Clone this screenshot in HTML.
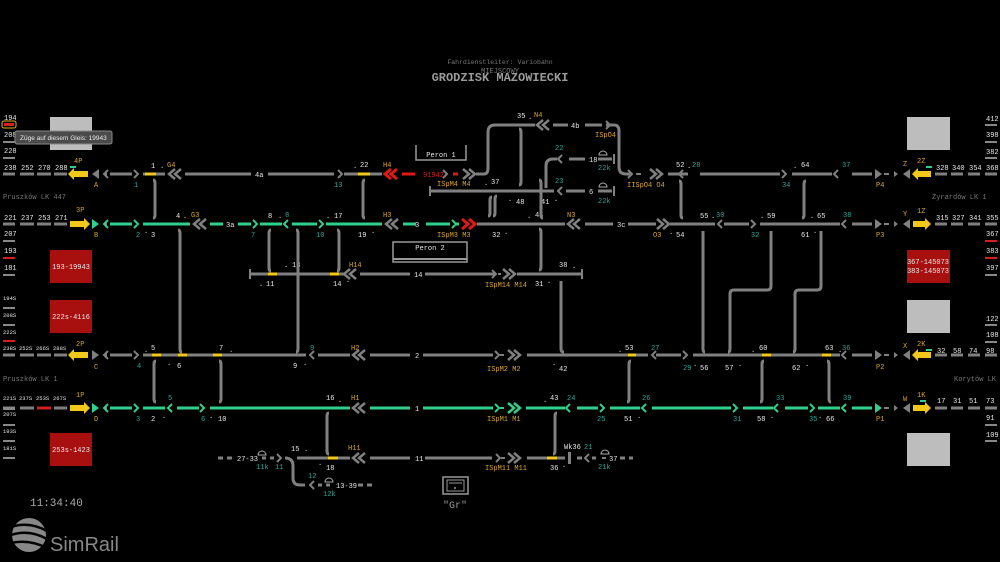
<!DOCTYPE html>
<html><head><meta charset="utf-8"><style>
html,body{margin:0;padding:0;background:#000;}
svg{display:block}
text{font-family:"Liberation Mono","DejaVu Sans Mono",monospace;font-size:7px;fill:#e8e8e8}
text.s{font-size:5.5px}
.o{fill:#d9a528}.t{fill:#2aa89a}.r{fill:#d42020}.g{fill:#777}
.tr{stroke:#808080;stroke-width:3;fill:none}
.gr{stroke:#2fd08c;stroke-width:3;fill:none}
.y{stroke:#f2c81a;stroke-width:3;fill:none}
.rd{stroke:#e01818;stroke-width:3;fill:none}
.ch{stroke:#808080;stroke-width:2;fill:none}
.chg{stroke:#2fd08c;stroke-width:2;fill:none}
.br{stroke:#808080;stroke-width:3;fill:none}
</style></head><body>
<svg width="1000" height="562" viewBox="0 0 1000 562" xmlns="http://www.w3.org/2000/svg">
<rect width="1000" height="562" fill="#000"/>
<text x="500" y="64" text-anchor="middle" style="font-size:6.5px" class="g">Fahrdienstleiter: Variobahn</text>
<text x="500" y="73" text-anchor="middle" style="font-size:7px" class="g">MIEJSCOWY</text>
<text x="500" y="81" text-anchor="middle" style="font-size:12px;font-weight:bold;fill:#9a9a9a">GRODZISK MAZOWIECKI</text>

<g>
<text x="4" y="120">194</text><rect x="2" y="121" width="14" height="7" rx="2" fill="none" stroke="#e0b020"/><rect x="4" y="123" width="10" height="3" fill="#d42020"/>
<text x="4" y="137">208</text><rect x="3" y="141" width="12" height="2" fill="#888"/>
<text x="4" y="153">228</text><rect x="3" y="157" width="12" height="2" fill="#888"/>
<text x="4" y="170">238</text><text x="21" y="170">252</text><text x="38" y="170">270</text><text x="55" y="170">288</text>
<text x="4" y="220">221</text><text x="21" y="220">237</text><text x="38" y="220">253</text><text x="55" y="220">271</text>
<text x="4" y="236">207</text><rect x="3" y="240" width="12" height="2" fill="#888"/>
<text x="4" y="253">193</text><rect x="3" y="257" width="12" height="2" fill="#d42020"/>
<text x="4" y="270">181</text><rect x="3" y="274" width="12" height="2" fill="#888"/>
<text class="s" x="3" y="300">194S</text><rect x="3" y="307" width="12" height="2" fill="#888"/>
<text class="s" x="3" y="317">208S</text><rect x="3" y="324" width="12" height="2" fill="#888"/>
<text class="s" x="3" y="334">222S</text><rect x="3" y="340" width="12" height="2" fill="#d42020"/>
<text class="s" x="3" y="350">238S</text><text class="s" x="19" y="350">252S</text><text class="s" x="36" y="350">266S</text><text class="s" x="53" y="350">288S</text>
<text class="s" x="3" y="400">221S</text><text class="s" x="19" y="400">237S</text><text class="s" x="36" y="400">253S</text><text class="s" x="53" y="400">267S</text>
<text class="s" x="3" y="416">207S</text><rect x="3" y="424" width="12" height="2" fill="#888"/>
<text class="s" x="3" y="433">193S</text><rect x="3" y="440" width="12" height="2" fill="#888"/>
<text class="s" x="3" y="450">181S</text><rect x="3" y="457" width="12" height="2" fill="#888"/>
<text x="3" y="199" class="g">Pruszków LK 447</text>
<text x="3" y="381" class="g">Pruszków LK 1</text>
</g>
<g stroke="#808080" stroke-width="3">
<path d="M3 174h12M20 174h14M37 174h14M54 174h13"/>
<path d="M3 224h12M20 224h14M37 224h14M54 224h13"/>
<path d="M3 355h12M20 355h14M37 355h14M54 355h13"/>
<path d="M3 408h12M20 408h14M54 408h13"/>
</g>
<path d="M37 408h14" stroke="#d42020" stroke-width="3"/>
<rect x="3" y="407" width="12" height="3" fill="#888"/>
<rect x="50" y="117" width="42" height="33" fill="#bdbdbd"/>
<rect x="15" y="131" width="97" height="13" rx="2" fill="#4a4a4a" stroke="#8a8a8a"/>
<text x="20" y="140" style="font-family:'Liberation Sans',sans-serif;font-size:6.5px">Züge auf diesem Gleis: 19943</text>
<rect x="50" y="250" width="42" height="33" fill="#a8100f"/><text x="71" y="269" text-anchor="middle">193-19943</text>
<rect x="50" y="300" width="42" height="33" fill="#a8100f"/><text x="71" y="319" text-anchor="middle">222s-4116</text>
<rect x="50" y="433" width="42" height="33" fill="#a8100f"/><text x="71" y="452" text-anchor="middle">253s-1423</text>

<rect x="907" y="117" width="43" height="33" fill="#bdbdbd"/>
<rect x="907" y="300" width="43" height="33" fill="#bdbdbd"/>
<rect x="907" y="433" width="43" height="33" fill="#bdbdbd"/>
<rect x="907" y="250" width="43" height="33" fill="#a8100f"/><text x="928" y="264" text-anchor="middle">367-145073</text><text x="928" y="273" text-anchor="middle">383-145073</text>
<g>
<text x="986" y="121">412</text><rect x="985" y="124" width="12" height="2" fill="#888"/>
<text x="986" y="137">398</text><rect x="985" y="141" width="12" height="2" fill="#888"/>
<text x="986" y="154">382</text><rect x="985" y="157" width="12" height="2" fill="#888"/>
<text x="936" y="170">328</text><text x="952" y="170">340</text><text x="969" y="170">354</text><text x="986" y="170">368</text>
<text x="936" y="220">315</text><text x="952" y="220">327</text><text x="969" y="220">341</text><text x="986" y="220">355</text>
<text x="986" y="236">367</text><rect x="985" y="240" width="12" height="2" fill="#d42020"/>
<text x="986" y="253">383</text><rect x="985" y="257" width="12" height="2" fill="#d42020"/>
<text x="986" y="270">397</text><rect x="985" y="274" width="12" height="2" fill="#888"/>
<text x="986" y="321">122</text><rect x="985" y="324" width="12" height="2" fill="#888"/>
<text x="986" y="337">108</text><rect x="985" y="341" width="12" height="2" fill="#888"/>
<text x="937" y="353">32</text><text x="953" y="353">58</text><text x="969" y="353">74</text><text x="986" y="353">98</text>
<text x="937" y="403">17</text><text x="953" y="403">31</text><text x="969" y="403">51</text><text x="986" y="403">73</text>
<text x="986" y="420">91</text><rect x="985" y="424" width="12" height="2" fill="#888"/>
<text x="986" y="437">109</text><rect x="985" y="440" width="12" height="2" fill="#888"/>
<text x="932" y="199" class="g">Żyrardów LK 1</text>
<text x="954" y="381" class="g">Korytów LK 4</text>
</g>
<g stroke="#808080" stroke-width="3">
<path d="M935 174h12M951 174h12M968 174h12M985 174h12"/>
<path d="M935 224h12M951 224h12M968 224h12M985 224h12"/>
<path d="M935 355h12M951 355h12M968 355h12M985 355h12"/>
<path d="M935 408h12M951 408h12M968 408h12M985 408h12"/>
</g>

<g>
<text x="74" y="163" class="o">4P</text><rect x="70" y="166" width="6" height="2" fill="#2fd08c"/>
<polygon points="68,174 74,168 74,180" fill="#f2c81a"/><rect x="74" y="171" width="14" height="6" fill="#f2c81a"/>
<polygon points="92,174 99,169 99,179" fill="#808080"/><polygon points="103,174 107,171 107,177" fill="#808080"/>
<text x="94" y="187" class="o">A</text>
<text x="76" y="212" class="o">3P</text>
<rect x="70" y="221" width="14" height="6" fill="#f2c81a"/><polygon points="90,224 84,218 84,230" fill="#f2c81a"/>
<polygon points="99,224 92,219 92,229" fill="#2fd08c"/><polygon points="103,224 107,221 107,227" fill="#808080"/>
<text x="94" y="237" class="o">B</text>
<text x="76" y="346" class="o">2P</text>
<polygon points="68,355 74,349 74,361" fill="#f2c81a"/><rect x="74" y="352" width="14" height="6" fill="#f2c81a"/>
<polygon points="99,355 92,350 92,360" fill="#808080"/><polygon points="103,355 107,352 107,358" fill="#808080"/>
<text x="94" y="369" class="o">C</text>
<text x="76" y="397" class="o">1P</text>
<rect x="70" y="405" width="14" height="6" fill="#f2c81a"/><polygon points="90,408 84,402 84,414" fill="#f2c81a"/>
<polygon points="99,408 92,403 92,413" fill="#2fd08c"/><polygon points="103,408 107,405 107,411" fill="#808080"/>
<text x="94" y="421" class="o">D</text>
</g>
<g>
<text x="917" y="163" class="o">2Z</text><rect x="926" y="166" width="6" height="2" fill="#2fd08c"/>
<polygon points="912,174 918,168 918,180" fill="#f2c81a"/><rect x="918" y="171" width="13" height="6" fill="#f2c81a"/>
<polygon points="903,174 910,169 910,179" fill="#808080"/><polygon points="898,174 894,171 894,177" fill="#808080"/>
<path d="M884 174h5" stroke="#808080" stroke-width="2"/><polygon points="882,174 875,169 875,179" fill="#808080"/>
<text x="903" y="166" class="o">Z</text><text x="876" y="187" class="o">P4</text>
<text x="917" y="213" class="o">1Z</text>
<rect x="913" y="221" width="13" height="6" fill="#f2c81a"/><polygon points="931,224 925,218 925,230" fill="#f2c81a"/>
<polygon points="903,224 910,219 910,229" fill="#808080"/><polygon points="898,224 894,221 894,227" fill="#808080"/>
<path d="M884 224h5" stroke="#808080" stroke-width="2"/><polygon points="882,224 875,219 875,229" fill="#808080"/>
<text x="903" y="216" class="o">Y</text><text x="876" y="237" class="o">P3</text>
<text x="917" y="346" class="o">2K</text><rect x="926" y="349" width="6" height="2" fill="#2fd08c"/>
<polygon points="912,355 918,349 918,361" fill="#f2c81a"/><rect x="918" y="352" width="13" height="6" fill="#f2c81a"/>
<polygon points="903,355 910,350 910,360" fill="#808080"/><polygon points="898,355 894,352 894,358" fill="#808080"/>
<path d="M884 355h5" stroke="#808080" stroke-width="2"/><polygon points="882,355 875,350 875,360" fill="#808080"/>
<text x="903" y="348" class="o">X</text><text x="876" y="369" class="o">P2</text>
<text x="917" y="397" class="o">1K</text><rect x="920" y="400" width="6" height="2" fill="#2fd08c"/>
<rect x="913" y="405" width="13" height="6" fill="#f2c81a"/><polygon points="931,408 925,402 925,414" fill="#f2c81a"/>
<polygon points="903,408 910,403 910,413" fill="#808080"/><polygon points="898,408 894,405 894,411" fill="#808080"/>
<path d="M884 408h5" stroke="#808080" stroke-width="2"/><polygon points="882,408 875,403 875,413" fill="#2fd08c"/>
<text x="903" y="401" class="o">W</text><text x="876" y="421" class="o">P1</text>
</g>

<path class="tr" d="M110 174h22M143 174h22M185 174h66M268 174h66M344 174h38M476 174h8q4 0 4-6v-36q0-7 7-7h40M553 125h15M585 125h17M606 125h8q5 0 5 6v36q0 7 7 7h4M668 174h20M700 174h80M792 174h40M852 174h20"/>
<path class="y" d="M145 174h11M358 174h12"/>
<path class="ch" d="M108 170l-4 4 4 4M134 170l4 4-4 4M683 170l-4 4 4 4M782 170l4 4-4 4M838 170l-4 4 4 4M606 121l4 4-4 4M628 170l4 4-4 4"/>
<path d="M175 169l-6 5 6 5M181 169l-6 5 6 5" stroke="#808080" stroke-width="2.5" fill="none"/>
<path d="M543 120l-6 5 6 5M549 120l-6 5 6 5" stroke="#808080" stroke-width="2.5" fill="none"/>
<path d="M463 169l6 5-6 5M469 169l6 5-6 5M650 169l6 5-6 5M656 169l6 5-6 5" stroke="#808080" stroke-width="2.5" fill="none"/>
<path d="M338 170l4 4-4 4M443 170l4 4-4 4" stroke="#808080" stroke-width="2" fill="none"/>
<path d="M636 174h5" stroke="#808080" stroke-width="2"/>
<path d="M391 169l-6 5 6 5M397 169l-6 5 6 5" stroke="#e01818" stroke-width="3" fill="none"/>
<path class="rd" d="M402 174h13M453 174h5"/>
<text x="423" y="177" class="r">91942</text>
<text x="255" y="177">4a</text><text x="571" y="128">4b</text>
<text x="151" y="168">1</text><text x="160" y="168">.</text><text x="167" y="167" class="o">G4</text>
<text x="134" y="187" class="t">1</text>
<text x="353" y="168">.</text><text x="360" y="167">22</text><text x="383" y="167" class="o">H4</text>
<text x="334" y="187" class="t">13</text>
<text x="437" y="186" class="o">ISpM4 M4</text>
<text x="517" y="118">35</text><text x="528" y="119">.</text><text x="534" y="117" class="o">N4</text>
<text x="595" y="137" class="o">ISpO4</text>
<text x="627" y="187" class="o">IISpO4 O4</text>
<text x="676" y="167">52</text><text x="687" y="168">.</text><text x="692" y="167" class="t">28</text>
<text x="782" y="187" class="t">34</text><text x="793" y="168">.</text><text x="801" y="167">64</text>
<text x="842" y="167" class="t">37</text>
<path d="M416 145v15h50v-15" stroke="#999" stroke-width="1.5" fill="none"/><text x="441" y="157" text-anchor="middle">Peron 1</text>
<path class="tr" d="M430 191h124M566 191h19M598 191h14M546 188v-22q0-7 7-7h4M569 159h16M598 159h14"/>
<path d="M430 186v10M614 186v10M614 154v10" stroke="#808080" stroke-width="2"/>
<path class="ch" d="M562 187l-4 4 4 4M562 155l-4 4 4 4"/>
<text x="589" y="162">18</text><text x="589" y="194">6</text>
<path d="M599 155a4 4 0 0 1 8 0zM599 187a4 4 0 0 1 8 0z" stroke="#aaa" fill="none"/>
<text x="598" y="170" class="t">22k</text><text x="598" y="203" class="t">22k</text>
<text x="555" y="150" class="t">22</text><text x="555" y="183" class="t">23</text>
<text x="484" y="185">.</text><text x="491" y="184">37</text>
<text x="508" y="201">.</text><text x="516" y="204">48</text><text x="541" y="204">41</text><text x="554" y="201">.</text>
<path class="br" d="M519 129q2 0 2 3v50q0 3-2 3"/>
<path class="br" d="M497 196q-2 0-2 3v14q0 3-2 3"/>

<path class="gr" d="M110 224h22M143 224h47M210 224h13M238 224h13M260 224h22M292 224h25M326 224h56M403 224h13M426 224h24M455 224h4"/>
<path class="chg" d="M108 220l-4 4 4 4M134 220l4 4-4 4M253 220l4 4-4 4M288 220l-4 4 4 4M319 220l4 4-4 4M452 220l4 4-4 4"/>
<path d="M200 219l-6 5 6 5M206 219l-6 5 6 5M392 219l-6 5 6 5M398 219l-6 5 6 5" stroke="#808080" stroke-width="2.5" fill="none"/>
<path d="M462 219l6 5-6 5M469 219l6 5-6 5" stroke="#e01818" stroke-width="3" fill="none"/>
<path class="tr" d="M477 224h88M585 224h28M628 224h28M670 224h45M724 224h25M760 224h80M852 224h20"/>
<path d="M574 219l-6 5 6 5M580 219l-6 5 6 5M657 219l6 5-6 5M663 219l6 5-6 5" stroke="#808080" stroke-width="2.5" fill="none"/>
<path class="ch" d="M722 220l-4 4 4 4M751 220l4 4-4 4M846 220l-4 4 4 4"/>
<text x="226" y="227">3a</text><text x="415" y="227">3</text><text x="617" y="227">3c</text>
<text x="176" y="218">4</text><text x="183" y="218">.</text><text x="191" y="217" class="o">G3</text>
<text x="136" y="237" class="t">2</text><text x="144" y="233">.</text><text x="151" y="237">3</text>
<text x="268" y="218">8</text><text x="278" y="218">.</text><text x="285" y="217" class="t">8</text>
<text x="251" y="237" class="t">7</text><text x="316" y="237" class="t">10</text>
<text x="326" y="218">.</text><text x="334" y="218">17</text><text x="383" y="217" class="o">H3</text>
<text x="358" y="237">19</text><text x="371" y="233">.</text>
<text x="437" y="237" class="o">ISpM3 M3</text>
<text x="492" y="237">32</text><text x="504" y="234">.</text>
<text x="527" y="218">.</text><text x="535" y="217">44</text><text x="567" y="217" class="o">N3</text>
<text x="653" y="237" class="o">O3</text><text x="669" y="234">.</text><text x="676" y="237">54</text>
<text x="700" y="218">55</text><text x="711" y="218">.</text><text x="716" y="217" class="t">30</text>
<text x="751" y="237" class="t">32</text><text x="760" y="218">.</text><text x="767" y="218">59</text>
<text x="801" y="237">61</text><text x="813" y="233">.</text><text x="810" y="218">.</text><text x="817" y="218">65</text>
<text x="843" y="217" class="t">38</text>
<rect x="393" y="242" width="74" height="20" fill="none" stroke="#999" stroke-width="1.5"/><path d="M393 259h74" stroke="#999" stroke-width="2"/>
<text x="430" y="250" text-anchor="middle">Peron 2</text>

<path class="tr" d="M250 274h95M360 274h50M425 274h70M517 274h64"/>
<path d="M250 269v10M582 269v10" stroke="#808080" stroke-width="2"/>
<path class="y" d="M268 274h9M330 274h9"/>
<path d="M350 269l-6 5 6 5M356 269l-6 5 6 5M503 269l6 5-6 5M509 269l6 5-6 5" stroke="#808080" stroke-width="2.5" fill="none"/>
<path class="ch" d="M492 270l4 4-4 4"/><path d="M498 274h3" stroke="#808080" stroke-width="2"/>
<text x="414" y="277">14</text>
<text x="259" y="286">.</text><text x="266" y="286">11</text><text x="284" y="267">.</text><text x="292" y="267">13</text>
<text x="333" y="286">14</text><text x="346" y="282">.</text><text x="349" y="267" class="o">H14</text>
<text x="485" y="287" class="o">ISpM14 M14</text>
<text x="535" y="286">31</text><text x="547" y="283">.</text><text x="559" y="267">38</text><text x="572" y="268">.</text>

<path class="tr" d="M110 355h22M143 355h163M318 355h32M370 355h40M423 355h70M527 355h121M656 355h25M693 355h147M852 355h20"/>
<path class="y" d="M152 355h9M178 355h9M213 355h9M628 355h8M762 355h9M822 355h9"/>
<path class="ch" d="M108 351l-4 4 4 4M134 351l4 4-4 4M314 351l-4 4 4 4M495 351l4 4-4 4M656 351l-4 4 4 4M683 351l4 4-4 4M846 351l-4 4 4 4"/>
<path d="M359 350l-6 5 6 5M365 350l-6 5 6 5M508 350l6 5-6 5M514 350l6 5-6 5" stroke="#808080" stroke-width="2.5" fill="none"/>
<path d="M500 355h4" stroke="#808080" stroke-width="2"/>
<text x="415" y="358">2</text>
<text x="137" y="368" class="t">4</text><text x="144" y="352">.</text><text x="151" y="350">5</text>
<text x="167" y="365">.</text><text x="177" y="368">6</text>
<text x="219" y="350">7</text><text x="229" y="352">.</text>
<text x="293" y="368">9</text><text x="303" y="365">.</text><text x="310" y="350" class="t">9</text>
<text x="351" y="350" class="o">H2</text>
<text x="487" y="371" class="o">ISpM2 M2</text>
<text x="552" y="365">.</text><text x="559" y="371">42</text>
<text x="618" y="352">.</text><text x="625" y="350">53</text><text x="651" y="350" class="t">27</text>
<text x="683" y="370" class="t">29</text><text x="693" y="366">.</text><text x="700" y="370">56</text>
<text x="725" y="370">57</text><text x="738" y="366">.</text>
<text x="751" y="352">.</text><text x="759" y="350">60</text>
<text x="792" y="370">62</text><text x="805" y="366">.</text>
<text x="825" y="350">63</text><text x="838" y="352">.</text><text x="842" y="350" class="t">36</text>

<path class="gr" d="M110 408h22M143 408h22M177 408h22M210 408h140M370 408h40M423 408h70M526 408h39M577 408h21M610 408h30M652 408h79M743 408h30M785 408h23M818 408h22M852 408h20"/>
<path class="chg" d="M108 404l-4 4 4 4M134 404l4 4-4 4M172 404l-4 4 4 4M200 404l4 4-4 4M495 404l4 4-4 4M570 404l-4 4 4 4M600 404l4 4-4 4M646 404l-4 4 4 4M733 404l4 4-4 4M778 404l-4 4 4 4M810 404l4 4-4 4M846 404l-4 4 4 4"/>
<path d="M359 403l-6 5 6 5M365 403l-6 5 6 5" stroke="#808080" stroke-width="2.5" fill="none"/>
<path d="M508 403l6 5-6 5M514 403l6 5-6 5" stroke="#2fd08c" stroke-width="2.5" fill="none"/>
<path d="M500 408h4" stroke="#2fd08c" stroke-width="2"/>
<text x="415" y="411">1</text>
<text x="136" y="421" class="t">3</text><text x="151" y="421">2</text><text x="162" y="418">.</text><text x="168" y="400" class="t">5</text>
<text x="201" y="421" class="t">6</text><text x="209" y="418">.</text><text x="218" y="421">10</text>
<text x="326" y="400">16</text><text x="338" y="402">.</text><text x="351" y="400" class="o">H1</text>
<text x="487" y="421" class="o">ISpM1 M1</text>
<text x="543" y="402">.</text><text x="550" y="400">43</text><text x="567" y="400" class="t">24</text>
<text x="597" y="421" class="t">25</text><text x="624" y="421">51</text><text x="637" y="418">.</text><text x="642" y="400" class="t">26</text>
<text x="733" y="421" class="t">31</text><text x="757" y="421">58</text><text x="770" y="418">.</text><text x="776" y="400" class="t">33</text>
<text x="809" y="421" class="t">35</text><text x="818" y="418">.</text><text x="826" y="421">66</text><text x="843" y="400" class="t">39</text>

<path class="tr" d="M218 458h5M227 458h5M262 458h4M270 458h4M285 458q8 0 8 8v12q0 7 7 7h5M297 458h53M370 458h40M425 458h67M527 458h38M577 458h5M592 458h4M620 458h5M629 458h4"/>
<path d="M318 485h4M326 485h4M358 485h5M367 485h5" stroke="#808080" stroke-width="3"/>
<path class="y" d="M328 458h10M547 458h10"/>
<rect x="568" y="452" width="3" height="12" fill="#808080"/>
<path class="ch" d="M277 454l4 4-4 4M314 481l-4 4 4 4M496 454l4 4-4 4M589 454l-4 4 4 4"/>
<path d="M359 453l-6 5 6 5M365 453l-6 5 6 5M508 453l6 5-6 5M514 453l6 5-6 5" stroke="#808080" stroke-width="2.5" fill="none"/>
<path d="M501 458h4M602 458h4" stroke="#808080" stroke-width="2"/>
<path d="M258 455a4 4 0 0 1 8 0zM325 482a4 4 0 0 1 8 0zM601 454a4 4 0 0 1 8 0z" stroke="#aaa" fill="none"/>
<text x="237" y="461">27-33</text><text x="415" y="461">11</text><text x="336" y="488">13-39</text><text x="609" y="461">37</text>
<text x="256" y="469" class="t">11k</text><text x="275" y="469" class="t">11</text>
<text x="291" y="451">15</text><text x="304" y="451">.</text><text x="318" y="465">.</text><text x="326" y="470">18</text>
<text x="348" y="450" class="o">H11</text>
<text x="308" y="478" class="t">12</text><text x="323" y="496" class="t">12k</text>
<text x="485" y="470" class="o">ISpM11 M11</text>
<text x="550" y="470">36</text><text x="562" y="467">.</text>
<text x="564" y="449">Wk36</text><text x="584" y="449" class="t">21</text>
<text x="598" y="469" class="t">21k</text>

<g class="br">
<path d="M153 180q2 0 2 3v32q0 3-2 3"/>
<path d="M365 180q-2 0-2 3v32q0 3 2 3"/>
<path d="M178 230q2 0 2 3v116q0 3 2 3"/>
<path d="M271 230q-2 0-2 3v35q0 3 2 3"/>
<path d="M337 230q2 0 2 3v35q0 3-2 3"/>
<path d="M296 230q2 0 2 3v116q0 3-2 3"/>
<path d="M539 229q2 0 2 3v35q0 3-2 3"/>
<path d="M539 180q2 0 2 3v32q0 3 2 3"/>
<path d="M561 281v68q0 3 3 3"/>
<path d="M156 361q-2 0-2 3v35q0 3 2 3"/>
<path d="M219 361q2 0 2 3v35q0 3-2 3"/>
<path d="M329 413q-2 0-2 3v35q0 3 2 3"/>
<path d="M557 413q-2 0-2 3v35q0 3-2 3"/>
<path d="M631 361q-2 0-2 3v35q0 3-2 3"/>
<path d="M764 361q-2 0-2 3v35q0 3-2 3"/>
<path d="M827 361q2 0 2 3v35q0 3 2 3"/>
<path d="M679 181q2 0 2 3v31q0 3 2 3"/>
<path d="M806 181q-2 0-2 3v31q0 3-2 3"/>
<path d="M703 231v118q0 3 2 3"/>
<path d="M771 231v55q0 4-4 4h-33q-4 0-4 4v55q0 3-2 3"/>
<path d="M821 231v55q0 4-4 4h-18q-4 0-4 4v55q0 3-2 3"/>
<path d="M488 216q2 0 2-3v-13q0-3 2-3"/>
</g>

<rect x="443" y="477" width="25" height="17" fill="none" stroke="#999" stroke-width="1.5"/>
<rect x="447" y="480" width="17" height="11" fill="none" stroke="#999" stroke-width="1"/>
<path d="M449 483h13" stroke="#999"/><circle cx="455" cy="488" r="1" fill="#999"/>
<text x="455" y="508" text-anchor="middle" style="font-size:10px;fill:#999">"Gr"</text>

<text x="30" y="506" style="font-size:11px;fill:#aaa">11:34:40</text>
<g fill="#888">
<circle cx="29" cy="535" r="17"/>
<path d="M11 527q18-6 36 4" stroke="#000" stroke-width="2.5" fill="none"/>
<path d="M11 535q18-6 36 4" stroke="#000" stroke-width="2.5" fill="none"/>
<path d="M11 543q18-4 36 5" stroke="#000" stroke-width="2.5" fill="none"/>
</g>
<text x="50" y="551" style="font-family:'Liberation Sans',sans-serif;font-size:20px;fill:#888">SimRail</text>
</svg>
</body></html>
